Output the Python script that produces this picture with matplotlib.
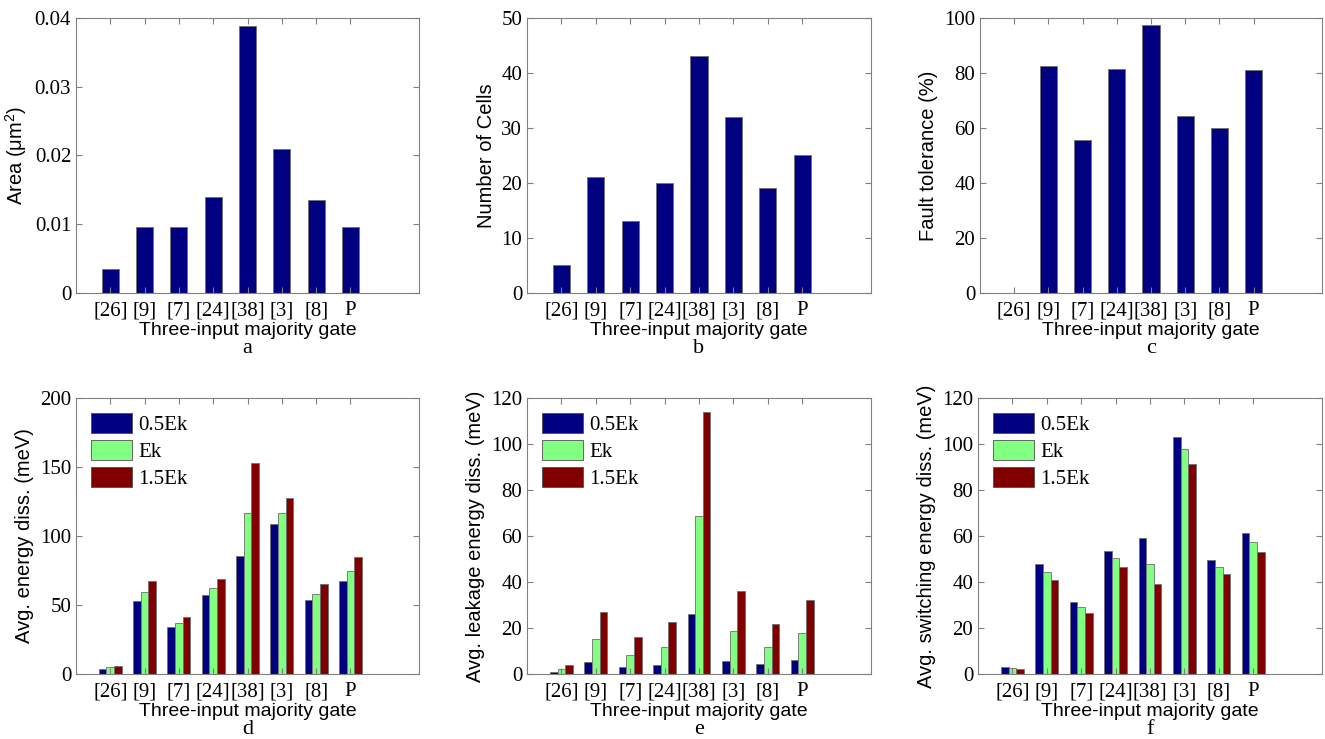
import numpy as np
import matplotlib
matplotlib.use("Agg")
import matplotlib.pyplot as plt

# data
gates = ['[26]', '[9]', '[7]', '[24]', '[38]', '[3]', '[8]', 'P']
area = [0.0035, 0.0096, 0.0096, 0.014, 0.0389, 0.021, 0.0135, 0.0096]
cells = [5, 21, 13, 20, 43, 32, 19, 25]
fault = [0, 82.4, 55.6, 81.3, 97.6, 64.2, 60.0, 81.0]

series = ['0.5Ek', 'Ek', '1.5Ek']
energy = [[3.6, 53.2, 34.0, 57.3, 85.6, 108.8, 53.7, 67.5],
          [4.8, 59.5, 37.2, 62.2, 116.6, 116.6, 58.3, 75.0],
          [6.0, 67.5, 41.6, 68.7, 152.6, 127.7, 65.0, 85.0]]
leakage = [[0.7, 5.4, 2.9, 3.9, 26.3, 5.8, 4.2, 6.3],
           [2.0, 15.1, 8.4, 11.9, 68.8, 18.9, 11.9, 17.7],
           [3.8, 26.9, 15.9, 22.5, 114.0, 36.2, 21.8, 32.0]]
switching = [[3.1, 47.9, 31.3, 53.5, 59.3, 103.1, 49.5, 61.4],
             [2.5, 44.5, 29.0, 50.3, 48.0, 97.9, 46.7, 57.6],
             [2.0, 41.0, 26.6, 46.4, 39.0, 91.3, 43.5, 53.2]]

colors = ['#000080', '#80ff80', '#800000']
serif = 'Liberation Serif'
sans = 'Liberation Sans'
plt.rcParams['mathtext.fontset'] = 'custom'
plt.rcParams['mathtext.rm'] = sans

fig = plt.figure(figsize=(13.25, 7.39), dpi=100)
W, H = 1325.0, 739.0

def make_ax(x0, x1, y0, y1):
    ax = fig.add_axes([x0 / W, 1 - y1 / H, (x1 - x0) / W, (y1 - y0) / H])
    for s in ax.spines.values():
        s.set_color('#808080')
        s.set_linewidth(0.8)
    ax.tick_params(direction='in', top=True, right=True, length=4,
                   color='#808080', labelsize=14)
    ax.tick_params(axis='x', pad=6)
    ax.set_xlim(0, 10)
    x = np.arange(1, len(gates) + 1)
    ax.set_xticks(x)
    ax.set_xticklabels(gates, fontfamily=serif, fontsize=15)
    ax.set_xlabel('Three-input majority gate', fontfamily=sans, fontsize=14, labelpad=1)
    return ax, x

def finish(ax, ylim, yticks, ylabel, letter, fmt=None):
    ax.set_ylim(*ylim)
    ax.set_yticks(yticks)
    if fmt:
        ax.set_yticklabels([fmt(v) for v in yticks])
    for lab in ax.get_yticklabels():
        lab.set_fontfamily(serif)
        lab.set_fontsize(15)
    ax.set_ylabel(ylabel, fontfamily=sans, fontsize=14.5)
    ax.text(0.5, -0.168, letter, transform=ax.transAxes, ha='center', va='top',
            fontfamily=serif, fontsize=16)

def single(ax, x, vals, ylim, yticks, ylabel, letter, fmt=None):
    ax.bar(x, vals, width=0.5, color=colors[0], edgecolor='#707070', linewidth=0.6)
    finish(ax, ylim, yticks, ylabel, letter, fmt)

def grouped(ax, x, data, ylim, yticks, ylabel, letter):
    w = 0.222
    for i, vals in enumerate(data):
        ax.bar(x + (i - 1) * w, vals, width=w, color=colors[i], edgecolor='#707070',
               linewidth=0.6, label=series[i])
    finish(ax, ylim, yticks, ylabel, letter)
    leg = ax.legend(loc='upper left', frameon=False, prop={'family': serif, 'size': 15},
                    handlelength=2.0, handleheight=1.1, handletextpad=0.3,
                    labelspacing=0.25, borderaxespad=0.3)
    for h in leg.legend_handles:
        h.set_edgecolor('#505050')

ax, x = make_ax(76, 419, 18, 293)
single(ax, x, area, (0, 0.04), [0, 0.01, 0.02, 0.03, 0.04], 'Area (\u03bcm$^{2}$)', 'a',
       fmt=lambda v: '0' if v == 0 else '%.2f' % v)

ax, x = make_ax(527, 871, 18, 293)
single(ax, x, cells, (0, 50), range(0, 51, 10), 'Number of Cells', 'b')

ax, x = make_ax(980, 1322, 18, 293)
single(ax, x, fault, (0, 100), range(0, 101, 20), 'Fault tolerance (%)', 'c')

ax, x = make_ax(76, 419, 398, 674)
grouped(ax, x, np.array(energy), (0, 200), range(0, 201, 50), 'Avg. energy diss. (meV)', 'd')

ax, x = make_ax(527, 871, 398, 674)
grouped(ax, x, np.array(leakage), (0, 120), range(0, 121, 20), 'Avg. leakage energy diss. (meV)', 'e')

ax, x = make_ax(978, 1322, 398, 674)
grouped(ax, x, np.array(switching), (0, 120), range(0, 121, 20), 'Avg. switching energy diss. (meV)', 'f')

fig.savefig('out.png', dpi=100)
